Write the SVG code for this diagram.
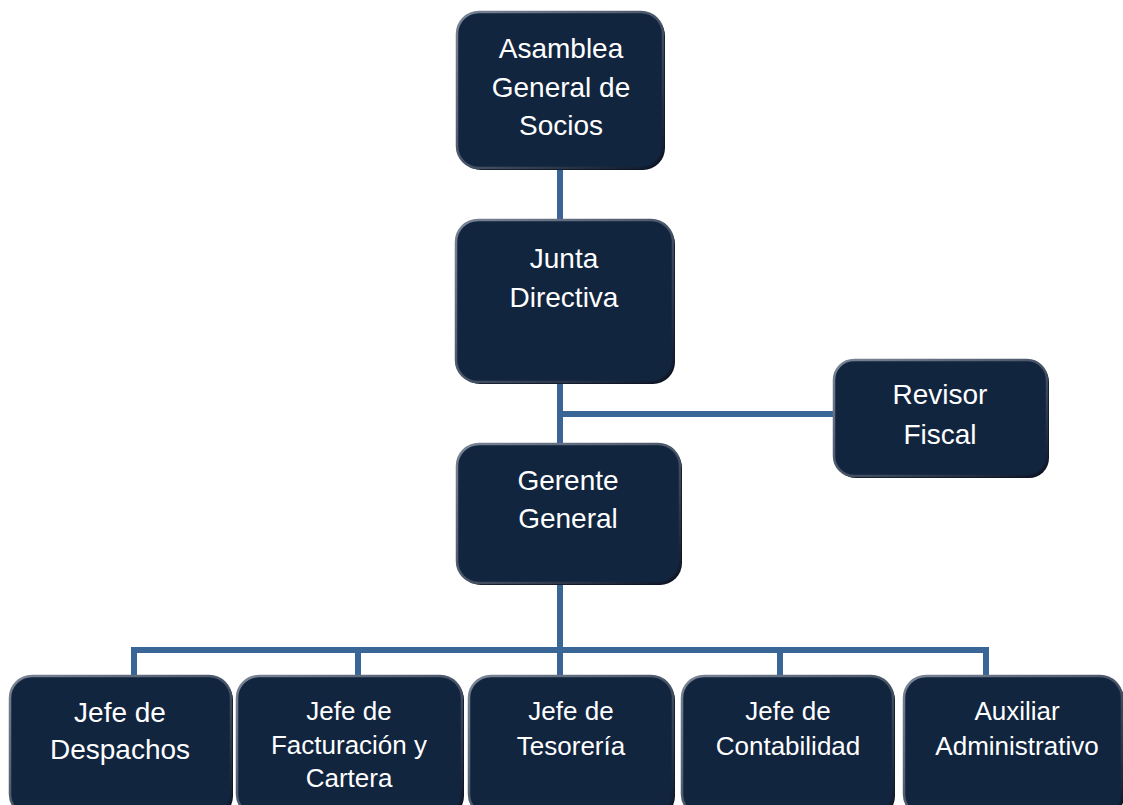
<svg xmlns="http://www.w3.org/2000/svg" width="1123" height="805" viewBox="0 0 1123 805">
<defs>
<linearGradient id="edge" x1="0" y1="0" x2="1" y2="1">
<stop offset="0" stop-color="#7a8595"/>
<stop offset="0.5" stop-color="#4a5668"/>
<stop offset="1" stop-color="#0c1628"/>
</linearGradient>
<style>
.box{fill:#12253f;stroke:url(#edge);stroke-width:2.5}
.sh{fill:#0a1424}
.t{font-family:"Liberation Sans",Arial,sans-serif;fill:#ffffff;text-anchor:middle}
.t28{font-size:28px}
.t26{font-size:26px}
.c{fill:none;stroke:#3a6597;stroke-width:6}
</style>
</defs>
<rect width="1123" height="805" fill="#ffffff"/>
<g id="connectors">
<path class="c" d="M560,168V220"/>
<path class="c" d="M560,382V444"/>
<path class="c" d="M560,414H834"/>
<path class="c" d="M560,583V650"/>
<path class="c" d="M134,677V650H986V677"/>
<path class="c" d="M358,650V677"/>
<path class="c" d="M560,650V677"/>
<path class="c" d="M780,650V677"/>
</g>
<g id="asamblea">
<rect class="sh" x="459" y="14" width="206" height="156" rx="22"/>
<rect class="box" x="457" y="12" width="206" height="156" rx="22"/>
<text class="t t28" x="561" y="58">Asamblea</text>
<text class="t t28" x="561" y="97">General de</text>
<text class="t t28" x="561" y="135">Socios</text>
</g>
<g id="junta">
<rect class="sh" x="458" y="222" width="217" height="162" rx="22"/>
<rect class="box" x="456" y="220" width="217" height="162" rx="22"/>
<text class="t t28" x="564" y="268">Junta</text>
<text class="t t28" x="564" y="307">Directiva</text>
</g>
<g id="revisor">
<rect class="sh" x="836" y="362" width="213" height="116" rx="20"/>
<rect class="box" x="834" y="360" width="213" height="116" rx="20"/>
<text class="t t28" x="940" y="404">Revisor</text>
<text class="t t28" x="940" y="444">Fiscal</text>
</g>
<g id="gerente">
<rect class="sh" x="459" y="446" width="223" height="139" rx="22"/>
<rect class="box" x="457" y="444" width="223" height="139" rx="22"/>
<text class="t t28" x="568" y="490">Gerente</text>
<text class="t t28" x="568" y="528">General</text>
</g>
<g id="despachos">
<rect class="sh" x="12" y="678" width="221" height="140" rx="22"/>
<rect class="box" x="10" y="676" width="221" height="140" rx="22"/>
<text class="t t28" x="120" y="722">Jefe de</text>
<text class="t t28" x="120" y="759">Despachos</text>
</g>
<g id="facturacion">
<rect class="sh" x="239" y="678" width="225" height="140" rx="22"/>
<rect class="box" x="237" y="676" width="225" height="140" rx="22"/>
<text class="t t26" x="349" y="720">Jefe de</text>
<text class="t t26" x="349" y="754">Facturación y</text>
<text class="t t26" x="349" y="787">Cartera</text>
</g>
<g id="tesoreria">
<rect class="sh" x="471" y="678" width="204" height="140" rx="22"/>
<rect class="box" x="469" y="676" width="204" height="140" rx="22"/>
<text class="t t26" x="571" y="720">Jefe de</text>
<text class="t t26" x="571" y="755">Tesorería</text>
</g>
<g id="contabilidad">
<rect class="sh" x="684" y="678" width="211" height="140" rx="22"/>
<rect class="box" x="682" y="676" width="211" height="140" rx="22"/>
<text class="t t26" x="788" y="720">Jefe de</text>
<text class="t t26" x="788" y="755">Contabilidad</text>
</g>
<g id="auxiliar">
<rect class="sh" x="906" y="678" width="218" height="140" rx="22"/>
<rect class="box" x="904" y="676" width="218" height="140" rx="22"/>
<text class="t t26" x="1017" y="720">Auxiliar</text>
<text class="t t26" x="1017" y="755">Administrativo</text>
</g>
</svg>
